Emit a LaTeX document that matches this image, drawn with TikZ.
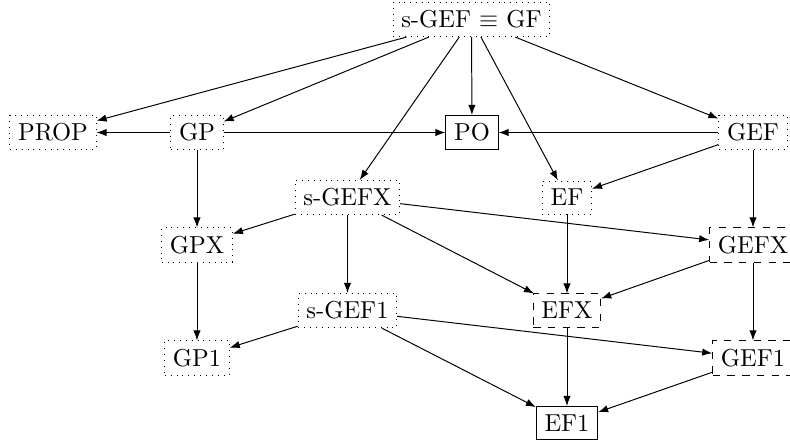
\documentclass[tikz,border=0pt]{standalone}
\usepackage{amssymb}
\usetikzlibrary{arrows.meta}
\begin{document}
\begin{tikzpicture}[x=0.408pt,y=-0.408pt,
  dotbox/.style={draw,dotted,inner sep=0.333em},
  dashbox/.style={draw,dashed,inner sep=0.333em},
  solidbox/.style={draw,inner sep=0.333em},
  arr/.style={-{Latex[length=4.1pt,width=3pt]}}]
\useasboundingbox (0,0) rectangle (790,441);
\node[dotbox] (sGEF) at (471.5,19.5) {s-GEF $\equiv$ GF};
\node[dotbox] (PROP) at (53,132.5) {PROP};
\node[dotbox] (GP) at (197,132.5) {GP};
\node[solidbox] (PO) at (472,132.5) {PO};
\node[dotbox] (GEF) at (753,132.5) {GEF};
\node[dotbox] (sGEFX) at (347.5,197.5) {s-GEFX};
\node[dotbox] (EF) at (567,197.5) {EF};
\node[dotbox] (GPX) at (197,245) {GPX};
\node[dashbox] (GEFX) at (753,245) {GEFX};
\node[dotbox] (sGEF1) at (347.5,310.5) {s-GEF1};
\node[dashbox] (EFX) at (567,310.5) {EFX};
\node[dotbox] (GP1) at (197,358) {GP1};
\node[dashbox] (GEF1) at (753,358) {GEF1};
\node[solidbox] (EF1) at (567,423) {EF1};
\draw[arr] (sGEF) -- (PROP);
\draw[arr] (sGEF) -- (GP);
\draw[arr] (sGEF) -- (PO);
\draw[arr] (sGEF) -- (sGEFX);
\draw[arr] (sGEF) -- (EF);
\draw[arr] (sGEF) -- (GEF);
\draw[arr] (GP) -- (PROP);
\draw[arr] (GP) -- (PO);
\draw[arr] (GEF) -- (PO);
\draw[arr] (GEF) -- (EF);
\draw[arr] (GEF) -- (GEFX);
\draw[arr] (GP) -- (GPX);
\draw[arr] (sGEFX) -- (GPX);
\draw[arr] (sGEFX) -- (GEFX);
\draw[arr] (sGEFX) -- (sGEF1);
\draw[arr] (sGEFX) -- (EFX);
\draw[arr] (EF) -- (EFX);
\draw[arr] (GEFX) -- (EFX);
\draw[arr] (GEFX) -- (GEF1);
\draw[arr] (GPX) -- (GP1);
\draw[arr] (sGEF1) -- (GP1);
\draw[arr] (sGEF1) -- (GEF1);
\draw[arr] (sGEF1) -- (EF1);
\draw[arr] (EFX) -- (EF1);
\draw[arr] (GEF1) -- (EF1);
\end{tikzpicture}
\end{document}
